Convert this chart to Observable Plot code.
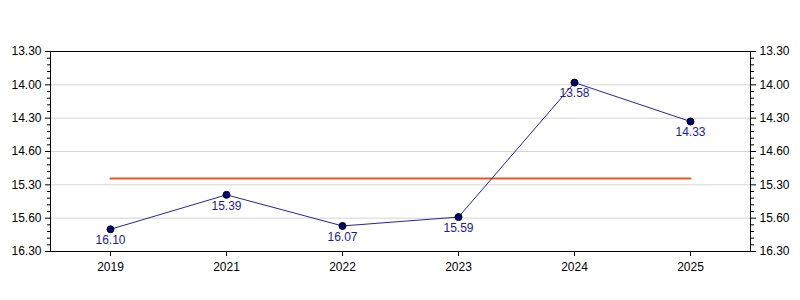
<!DOCTYPE html>
<html>
<head>
<meta charset="utf-8">
<script src="https://cdn.jsdelivr.net/npm/d3@7"></script>
<script src="https://cdn.jsdelivr.net/npm/@observablehq/plot@0.6"></script>
<style>
  html, body { margin: 0; padding: 0; background: #fff; }
  #chart svg { display: block; }
</style>
</head>
<body>
<div id="chart"></div>
<script>
// Data (times in min.sec notation)
const years = ["2019", "2021", "2022", "2023", "2024", "2025"];
const times = ["16.10", "15.39", "16.07", "15.59", "13.58", "14.33"];
// Axis tick values (decimal minutes) and their printed labels
const tickValues = [13.5, 14.0, 14.5, 15.0, 15.5, 16.0, 16.5];
const tickLabels = ["13.30", "14.00", "14.30", "14.60", "15.30", "15.60", "16.30"];

const toMinutes = s => { const [m, sec] = s.split("."); return +m + (+sec) / 60; };
const data = years.map((y, i) => ({ year: y, label: times[i], value: toMinutes(times[i]) }));
const avg = d3.mean(data, d => d.value);
const avgLine = [{ year: years[0], value: avg }, { year: years[years.length - 1], value: avg }];
const minorTicks = d3.range(13.5, 16.5001, 0.1).filter(v => !tickValues.some(t => Math.abs(t - v) < 1e-6));

const font = "'Liberation Sans', Arial, sans-serif";

const chart = Plot.plot({
  width: 800,
  height: 300,
  marginTop: 51,
  marginBottom: 49,
  marginLeft: 50,
  marginRight: 50,
  style: { fontFamily: font, fontSize: "12px", background: "#fff", color: "#000", overflow: "visible" },
  x: { type: "point", domain: years, padding: 0.5, label: null },
  y: { domain: [13.5, 16.5], reverse: true, label: null },
  marks: [
    Plot.gridY(tickValues.slice(1, -1), { stroke: "#d4d4d4", strokeOpacity: 1 }),
    Plot.axisY(tickValues, { anchor: "left", tickSize: 5, tickPadding: 4, tickFormat: (d, i) => tickLabels[i], label: null, stroke: "#000", fontSize: 12 }),
    Plot.axisY(minorTicks, { anchor: "left", tickSize: 3, tickFormat: () => "", label: null, stroke: "#000" }),
    Plot.axisY(tickValues, { anchor: "right", tickSize: 5, tickPadding: 4, tickFormat: (d, i) => tickLabels[i], label: null, stroke: "#000", fontSize: 12 }),
    Plot.axisY(minorTicks, { anchor: "right", tickSize: 3, tickFormat: () => "", label: null, stroke: "#000" }),
    Plot.axisX({ anchor: "bottom", tickSize: 5, tickPadding: 6, label: null, stroke: "#000", fontSize: 12 }),
    Plot.frame({ stroke: "#000" }),
    Plot.line(avgLine, { x: "year", y: "value", stroke: "#f4511e", strokeWidth: 2 }),
    Plot.line(data, { x: "year", y: "value", stroke: "#2323a8", strokeWidth: 1 }),
    Plot.dot(data, { x: "year", y: "value", r: 3.5, fill: "#000080", stroke: "#000", strokeWidth: 1 }),
    Plot.text(data, { x: "year", y: "value", text: "label", dy: 11, fill: "#1a1a9a", fontSize: 12 })
  ]
});
document.getElementById("chart").appendChild(chart);
</script>
</body>
</html>
